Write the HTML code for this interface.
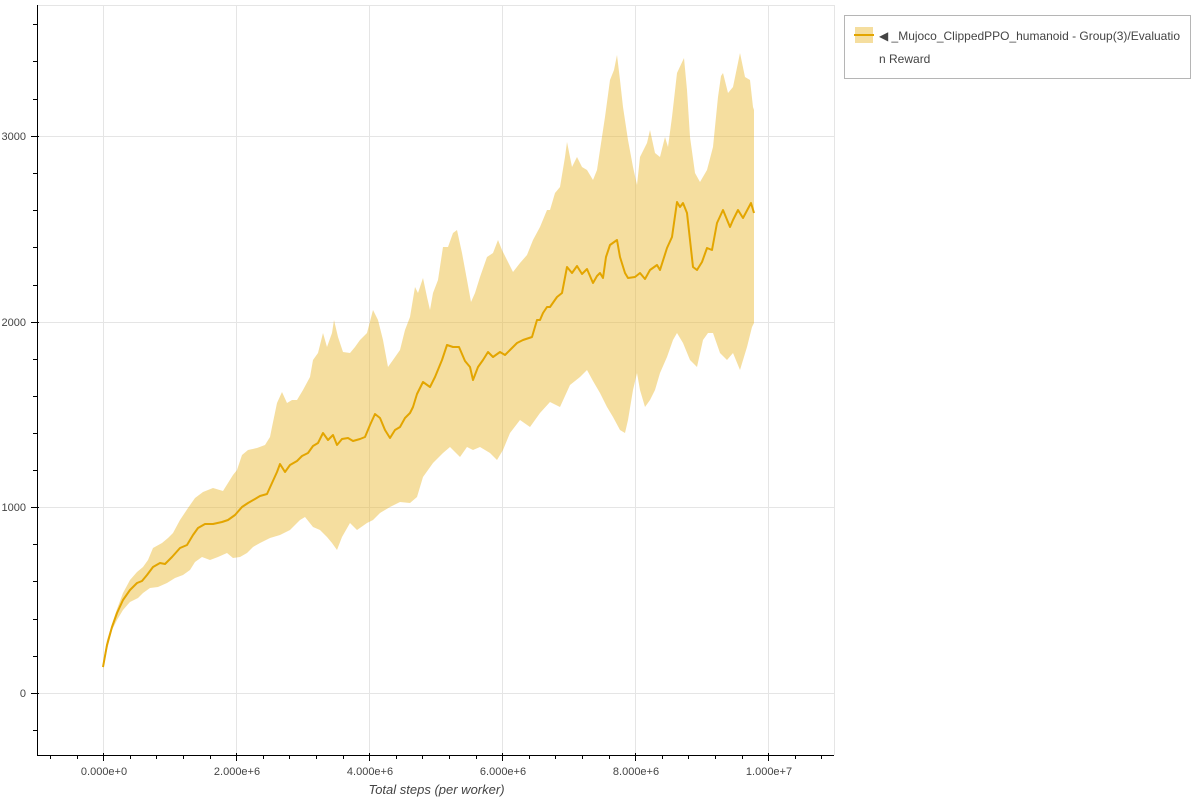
<!DOCTYPE html>
<html>
<head>
<meta charset="utf-8">
<style>
html,body{margin:0;padding:0;background:#fff;}
svg{display:block;}
text{font-family:"Liberation Sans",Arial,sans-serif;}
</style>
</head>
<body>
<svg width="1200" height="800" viewBox="0 0 1200 800" xmlns="http://www.w3.org/2000/svg">
<rect x="0" y="0" width="1200" height="800" fill="#fff"/>
<!-- grid -->
<g stroke="#e5e5e5" stroke-width="1">
<line x1="37" y1="5.5" x2="834" y2="5.5"/>
<line x1="834.5" y1="5" x2="834.5" y2="755"/>
<line x1="103.5" y1="5" x2="103.5" y2="755"/>
<line x1="236.5" y1="5" x2="236.5" y2="755"/>
<line x1="369.5" y1="5" x2="369.5" y2="755"/>
<line x1="502.5" y1="5" x2="502.5" y2="755"/>
<line x1="635.5" y1="5" x2="635.5" y2="755"/>
<line x1="768.5" y1="5" x2="768.5" y2="755"/>
<line x1="37" y1="136.5" x2="834" y2="136.5"/>
<line x1="37" y1="322.5" x2="834" y2="322.5"/>
<line x1="37" y1="507.5" x2="834" y2="507.5"/>
<line x1="37" y1="693.5" x2="834" y2="693.5"/>
</g>
<!-- band -->
<polygon fill="#e8b62a" fill-opacity="0.45" points="
103,662 107,640 112,624 117,609 123,593 130,580 137,572 143,567 148,560 153,548 162,543 168,538 173,533 180,520 188,508 195,498 203,492 213,488 223,491 228,483 233,475 237,470 242,455 248,450 257,448 265,445 270,437 272,427 277,403 282,392 287,403 292,400 297,400 303,390 310,377 313,360 318,353 323,333 327,347 332,333 334,320 338,337 343,352 350,353 355,347 360,340 367,333 373,310 378,320 383,340 388,367 393,360 400,350 405,330 410,317 415,287 418,293 423,278 427,297 430,310 433,293 438,280 443,247 448,247 453,233 457,230 462,253 467,280 471,302 475,293 480,277 487,257 493,253 498,240 502,250 507,260 513,272 520,263 527,255 533,240 540,227 547,210 550,210 555,193 560,187 565,157 567,142 572,167 577,157 582,167 587,170 593,180 597,170 600,150 605,117 610,80 614,70 617,55 620,80 623,107 628,140 633,167 637,185 640,157 647,143 650,130 655,153 660,157 665,137 668,147 672,117 677,73 684,58 687,90 690,137 695,173 700,182 707,170 713,147 718,97 721,76 723,73 728,93 733,87 740,53 745,77 750,80 753,107 754,110
754,323 752,327 747,347 740,370 733,353 727,360 720,353 713,333 708,333 703,340 697,367 690,360 683,343 677,333 673,340 667,357 660,373 655,390 650,400 645,407 640,390 637,373 633,390 628,420 625,433 620,430 613,417 607,407 600,393 593,381 587,370 580,377 570,385 560,407 550,402 540,413 530,427 520,420 510,433 503,450 497,460 490,453 480,447 473,450 467,447 460,457 450,447 443,453 433,463 423,477 417,497 410,503 400,502 390,507 380,513 373,520 367,523 357,530 350,523 342,537 337,550 332,543 327,537 320,530 313,527 305,517 300,520 290,530 280,535 270,538 260,543 253,547 247,553 240,557 233,558 227,553 218,557 210,560 202,557 195,562 190,570 183,575 175,578 167,583 158,587 150,588 143,593 138,598 130,602 123,610 117,620 112,630 107,650 103,670"/>
<!-- mean line -->
<polyline fill="none" stroke="#e3a500" stroke-width="2" stroke-linejoin="round" points="
103,667 107,645 112,627 117,613 123,600 130,590 137,583 142,581 147,575 153,567 160,563 165,564 172,557 180,548 187,545 193,535 198,528 205,524 213,524 222,522 228,520 235,515 242,507 248,503 255,499 260,496 267,494 272,483 277,472 280,464 285,472 290,465 297,461 302,456 308,453 313,446 318,443 323,433 328,440 333,435 337,445 342,439 348,438 353,441 360,439 365,437 370,425 375,414 380,418 385,430 390,438 395,430 400,427 405,418 410,413 413,407 417,394 423,382 430,387 435,377 442,360 447,345 453,347 459,347 465,361 470,367 473,380 478,367 483,360 488,352 493,357 500,352 505,355 510,350 517,343 523,340 532,337 537,320 540,320 543,313 547,307 550,307 557,297 562,293 567,267 572,273 577,266 582,274 587,269 593,283 597,276 600,273 603,278 606,257 610,245 617,240 620,257 625,273 628,278 635,277 640,273 645,279 650,270 657,265 660,270 667,248 672,237 677,202 680,207 683,203 687,213 690,240 693,267 697,270 702,262 707,248 712,250 717,223 723,210 730,227 733,220 738,210 743,218 751,203 754,213"/>
<!-- axes -->
<g stroke="#000" stroke-width="1">
<line x1="37.5" y1="5" x2="37.5" y2="756"/>
<line x1="37" y1="755.5" x2="834" y2="755.5"/>
<!-- y major -->
<line x1="31" y1="136.5" x2="39" y2="136.5"/>
<line x1="31" y1="322.5" x2="39" y2="322.5"/>
<line x1="31" y1="507.5" x2="39" y2="507.5"/>
<line x1="31" y1="693.5" x2="39" y2="693.5"/>
<!-- y minor -->
<line x1="33" y1="24.5" x2="37" y2="24.5"/>
<line x1="33" y1="61.5" x2="37" y2="61.5"/>
<line x1="33" y1="99.5" x2="37" y2="99.5"/>
<line x1="33" y1="173.5" x2="37" y2="173.5"/>
<line x1="33" y1="210.5" x2="37" y2="210.5"/>
<line x1="33" y1="247.5" x2="37" y2="247.5"/>
<line x1="33" y1="285.5" x2="37" y2="285.5"/>
<line x1="33" y1="359.5" x2="37" y2="359.5"/>
<line x1="33" y1="396.5" x2="37" y2="396.5"/>
<line x1="33" y1="433.5" x2="37" y2="433.5"/>
<line x1="33" y1="470.5" x2="37" y2="470.5"/>
<line x1="33" y1="544.5" x2="37" y2="544.5"/>
<line x1="33" y1="581.5" x2="37" y2="581.5"/>
<line x1="33" y1="619.5" x2="37" y2="619.5"/>
<line x1="33" y1="656.5" x2="37" y2="656.5"/>
<line x1="33" y1="730.5" x2="37" y2="730.5"/>
<!-- x major -->
<line x1="103.5" y1="753" x2="103.5" y2="761"/>
<line x1="236.5" y1="753" x2="236.5" y2="761"/>
<line x1="369.5" y1="753" x2="369.5" y2="761"/>
<line x1="502.5" y1="753" x2="502.5" y2="761"/>
<line x1="635.5" y1="753" x2="635.5" y2="761"/>
<line x1="768.5" y1="753" x2="768.5" y2="761"/>
<!-- x minor -->
<line x1="50.5" y1="755" x2="50.5" y2="759"/>
<line x1="77.5" y1="755" x2="77.5" y2="759"/>
<line x1="130.5" y1="755" x2="130.5" y2="759"/>
<line x1="156.5" y1="755" x2="156.5" y2="759"/>
<line x1="183.5" y1="755" x2="183.5" y2="759"/>
<line x1="210.5" y1="755" x2="210.5" y2="759"/>
<line x1="263.5" y1="755" x2="263.5" y2="759"/>
<line x1="289.5" y1="755" x2="289.5" y2="759"/>
<line x1="316.5" y1="755" x2="316.5" y2="759"/>
<line x1="343.5" y1="755" x2="343.5" y2="759"/>
<line x1="396.5" y1="755" x2="396.5" y2="759"/>
<line x1="422.5" y1="755" x2="422.5" y2="759"/>
<line x1="449.5" y1="755" x2="449.5" y2="759"/>
<line x1="476.5" y1="755" x2="476.5" y2="759"/>
<line x1="529.5" y1="755" x2="529.5" y2="759"/>
<line x1="555.5" y1="755" x2="555.5" y2="759"/>
<line x1="582.5" y1="755" x2="582.5" y2="759"/>
<line x1="609.5" y1="755" x2="609.5" y2="759"/>
<line x1="662.5" y1="755" x2="662.5" y2="759"/>
<line x1="688.5" y1="755" x2="688.5" y2="759"/>
<line x1="715.5" y1="755" x2="715.5" y2="759"/>
<line x1="742.5" y1="755" x2="742.5" y2="759"/>
<line x1="795.5" y1="755" x2="795.5" y2="759"/>
<line x1="821.5" y1="755" x2="821.5" y2="759"/>
</g>
<!-- y labels -->
<g font-size="11" fill="#444" text-anchor="end">
<text x="26" y="140">3000</text>
<text x="26" y="326">2000</text>
<text x="26" y="511">1000</text>
<text x="26" y="697">0</text>
</g>
<!-- x labels -->
<g font-size="11" fill="#444" text-anchor="middle">
<text x="104" y="775">0.000e+0</text>
<text x="237" y="775">2.000e+6</text>
<text x="370" y="775">4.000e+6</text>
<text x="503" y="775">6.000e+6</text>
<text x="636" y="775">8.000e+6</text>
<text x="769" y="775">1.000e+7</text>
</g>
<text x="436.5" y="794" font-size="13" font-style="italic" fill="#444" text-anchor="middle">Total steps (per worker)</text>
<!-- legend -->
<rect x="844.5" y="15.5" width="346" height="63" fill="#fff" stroke="#b5b5b5" stroke-width="1"/>
<rect x="855" y="27" width="18" height="16" fill="#e8b62a" fill-opacity="0.45"/>
<line x1="854" y1="35" x2="874" y2="35" stroke="#e3a500" stroke-width="2"/>
<text x="879" y="40" font-size="12" fill="#444" textLength="301" lengthAdjust="spacingAndGlyphs">◀ _Mujoco_ClippedPPO_humanoid - Group(3)/Evaluatio</text>
<text x="879" y="63" font-size="12" fill="#444">n Reward</text>
</svg>
</body>
</html>
